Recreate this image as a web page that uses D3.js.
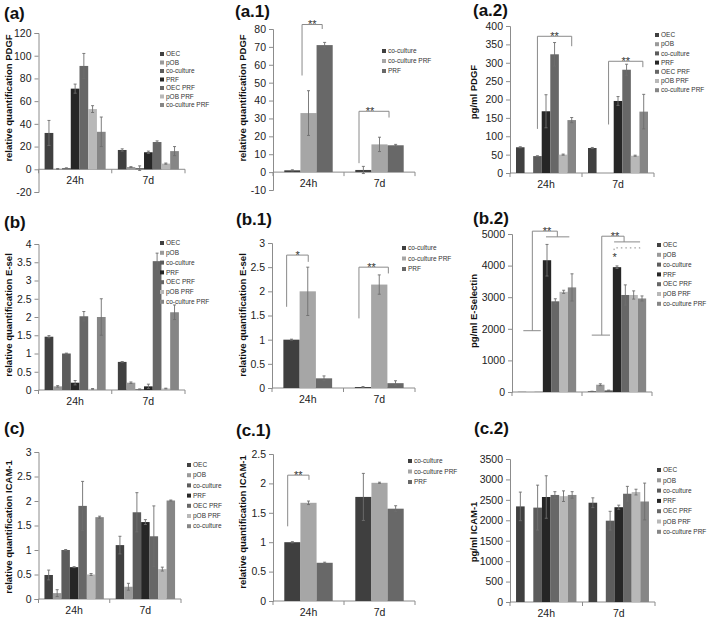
<!DOCTYPE html>
<html><head><meta charset="utf-8">
<script src="https://cdn.jsdelivr.net/npm/d3@7"></script>
<style>body{margin:0;background:#fff} svg{display:block} text{font-family:"Liberation Sans",Arial,sans-serif}</style>
</head><body><svg id="c" width="709" height="623"></svg>
<script>
// ---------- data ----------
const groups = ["24h", "7d"];
const series7 = ["OEC", "pOB", "co-culture", "PRF", "OEC PRF", "pOB PRF", "co-culture PRF"];
const series7c = ["OEC", "pOB", "co-culture", "PRF", "OEC PRF", "pOB PRF", "co-culture"];
const series3 = ["co-culture", "co-culture PRF", "PRF"];
const colors7 = ["#404040", "#9a9a9a", "#5c5c5c", "#262626", "#676767", "#b8b8b8", "#868686"];
const colors3 = ["#3f3f3f", "#a6a6a6", "#686868"];

// (a) relative quantification PDGF
const a24 = [32, 0.4, 1, 71, 91, 53, 33];
const a24e = [11, 0.3, 0.3, 4, 11, 3, 13];
const a7 = [17, 2, 1, 15, 24, 5, 16];
const a7e = [1, 0.3, 2, 1, 1, 0.5, 4];
// (a.1)
const a1_24 = [1, 33, 71];
const a1_24e = [0.3, 12.5, 1.5];
const a1_7 = [1.2, 15.5, 15];
const a1_7e = [2, 4, 0.5];
// (a.2) pg/ml PDGF
const a2_24 = [70, 0, 46, 168, 323, 50, 144];
const a2_24e = [1.5, 0, 1, 45, 32, 1.5, 7];
const a2_7 = [68, 0, 0, 196, 281, 47, 167];
const a2_7e = [1.5, 0, 0, 12, 15, 1.5, 47];
// (b) relative quantification E-sel
const b24 = [1.46, 0.1, 1.0, 0.2, 2.02, 0.03, 2.0];
const b24e = [0.03, 0.02, 0.01, 0.06, 0.13, 0.01, 0.5];
const b7 = [0.77, 0.2, 0.02, 0.1, 3.53, 0.04, 2.13];
const b7e = [0.01, 0.02, 0.01, 0.06, 0.22, 0.01, 0.2];
// (b.1)
const b1_24 = [1.0, 2.0, 0.2];
const b1_24e = [0.01, 0.5, 0.05];
const b1_7 = [0.02, 2.14, 0.1];
const b1_7e = [0.01, 0.2, 0.05];
// (b.2) pg/ml E-Selectin
const b2_24 = [5, 0, 5, 4170, 2870, 3170, 3310];
const b2_24e = [0, 0, 0, 500, 80, 50, 430];
const b2_7 = [20, 230, 50, 3950, 3070, 3070, 2960];
const b2_7e = [5, 30, 10, 40, 320, 130, 80];
// (c) relative quantification ICAM-1
const c24 = [0.49, 0.12, 1.0, 0.65, 1.9, 0.5, 1.67];
const c24e = [0.1, 0.07, 0.01, 0.01, 0.5, 0.02, 0.02];
const c7 = [1.1, 0.25, 1.77, 1.57, 1.28, 0.61, 2.01];
const c7e = [0.18, 0.07, 0.4, 0.05, 0.62, 0.04, 0.01];
// (c.1)
const c1_24 = [1.0, 1.67, 0.65];
const c1_24e = [0.01, 0.03, 0.01];
const c1_7 = [1.77, 2.01, 1.57];
const c1_7e = [0.4, 0.01, 0.05];
// (c.2) pg/ml ICAM-1
const c2_24 = [2340, 0, 2310, 2570, 2620, 2590, 2620];
const c2_24e = [350, 0, 550, 520, 80, 130, 80];
const c2_7 = [2430, 0, 1990, 2320, 2650, 2690, 2460];
const c2_7e = [120, 0, 230, 50, 180, 70, 450];

// significance brackets: group, polyline of [seriesPos, value], label at [seriesPos, value]
const a1Brackets = [
  {g: 0, pts: [[0.6, 54], [0.6, 82.5], [1.85, 82.5], [1.85, 80]], label: "**", at: [1.24, 82.5]},
  {g: 1, pts: [[-0.27, 5], [-0.27, 34], [1.59, 34], [1.59, 30.5]], label: "**", at: [0.41, 34]}
];
const a2Brackets = [
  {g: 0, pts: [[2, 120], [2, 372], [6, 372], [6, 345]], label: "**", at: [4, 372]},
  {g: 1, pts: [[1.9, 132], [1.9, 304], [5.9, 304], [5.9, 288]], label: "**", at: [3.9, 304]}
];
const b1Brackets = [
  {g: 0, pts: [[-0.3, 1.68], [-0.3, 2.75], [1.03, 2.75], [1.03, 2.61]], label: "*", at: [0.38, 2.75]},
  {g: 1, pts: [[-0.25, 1.44], [-0.25, 2.5], [1.56, 2.5], [1.56, 2.37]], label: "**", at: [0.53, 2.5]}
];
const c1Brackets = [
  {g: 0, pts: [[-0.29, 1.27], [-0.29, 2.14], [1.03, 2.14], [1.03, 2.06]], label: "**", at: [0.37, 2.14]}
];
const b2Brackets = [
  {g: 0, pts: [[0.16, 1940], [2.25, 1940]]},
  {g: 0, pts: [[1.24, 1940], [1.24, 5090], [4.24, 5090], [4.24, 4910]], label: "**", at: [3.0, 5090]},
  {g: 0, pts: [[2.88, 4910], [5.68, 4910]]},
  {g: 1, pts: [[-0.03, 1800], [2.16, 1800]]},
  {g: 1, pts: [[1.17, 1800], [1.17, 4930], [3.85, 4930], [3.85, 4750]], label: "**", at: [2.76, 4930]},
  {g: 1, pts: [[2.65, 4750], [5.77, 4750]]},
  {g: 1, pts: [[2.65, 4490], [2.65, 4560], [5.77, 4560], [5.77, 4490]], dash: "1.5,3"},
  {g: 1, pts: [], label: "*", at: [2.72, 4250]}
];

// ---------- layout & drawing ----------
const panels = [
  {title: "(a)", tx: 4, ty: 19, ylab: "relative quantification PDGF", lx: 9, ly: 98,
   xL: 38.5, xR: 185, yTop: 33, yBot: 192, min: -20, max: 120, step: 20,
   series: series7, colors: colors7, vals: [a24, a7], errs: [a24e, a7e], legX: 160, legY: 54, legDy: 8.5},
  {title: "(a.1)", tx: 235, ty: 17, ylab: "relative quantification PDGF", lx: 243, ly: 98,
   xL: 273, xR: 415, yTop: 29, yBot: 190, min: -10, max: 80, step: 10,
   series: series3, colors: colors3, vals: [a1_24, a1_7], errs: [a1_24e, a1_7e], legX: 382, legY: 51, legDy: 10,
   brackets: a1Brackets},
  {title: "(a.2)", tx: 473, ty: 16, ylab: "pg/ml PDGF", lx: 474, ly: 92,
   xL: 510, xR: 654, yTop: 26, yBot: 173, min: 0, max: 400, step: 50,
   series: series7, colors: colors7, vals: [a2_24, a2_7], errs: [a2_24e, a2_7e], legX: 655, legY: 35, legDy: 9.2,
   brackets: a2Brackets},
  {title: "(b)", tx: 4, ty: 228, ylab: "relative quantification E-sel", lx: 9, ly: 315,
   xL: 38.5, xR: 185, yTop: 244, yBot: 390, min: 0, max: 4, step: 0.5,
   series: series7, colors: colors7, vals: [b24, b7], errs: [b24e, b7e], legX: 160, legY: 243, legDy: 9.8},
  {title: "(b.1)", tx: 236, ty: 225, ylab: "relative quantification E-sel", lx: 243, ly: 315,
   xL: 272, xR: 415, yTop: 243, yBot: 388, min: 0, max: 3, step: 0.5,
   series: series3, colors: colors3, vals: [b1_24, b1_7], errs: [b1_24e, b1_7e], legX: 402, legY: 248, legDy: 10.5,
   brackets: b1Brackets},
  {title: "(b.2)", tx: 473, ty: 224, ylab: "pg/ml E-Selectin", lx: 474, ly: 311,
   xL: 512, xR: 652, yTop: 234, yBot: 392, min: 0, max: 5000, step: 1000, noCat: true,
   series: series7, colors: colors7, vals: [b2_24, b2_7], errs: [b2_24e, b2_7e], legX: 657, legY: 245, legDy: 9.8,
   brackets: b2Brackets},
  {title: "(c)", tx: 4, ty: 434, ylab: "relative quantification ICAM-1", lx: 9, ly: 527,
   xL: 38.5, xR: 181, yTop: 452, yBot: 599, min: 0, max: 3, step: 0.5,
   series: series7c, colors: colors7, vals: [c24, c7], errs: [c24e, c7e], legX: 187, legY: 465, legDy: 10.2},
  {title: "(c.1)", tx: 236, ty: 436, ylab: "relative quantification ICAM-1", lx: 243, ly: 522,
   xL: 273, xR: 415, yTop: 454, yBot: 601, min: 0, max: 2.5, step: 0.5,
   series: series3, colors: colors3, vals: [c1_24, c1_7], errs: [c1_24e, c1_7e], legX: 408, legY: 461, legDy: 10.5,
   brackets: c1Brackets},
  {title: "(c.2)", tx: 474, ty: 434, ylab: "pg/ml ICAM-1", lx: 474, ly: 532,
   xL: 510, xR: 655, yTop: 459, yBot: 602, min: 0, max: 3500, step: 500,
   series: series7, colors: colors7, vals: [c2_24, c2_7], errs: [c2_24e, c2_7e], legX: 657, legY: 470, legDy: 10.3}
];

const svg = d3.select("#c");
const AX = "#8c8c8c";

panels.forEach(p => {
  const g = svg.append("g");
  const n = p.series.length;
  const y = d3.scaleLinear().domain([p.min, p.max]).range([p.yBot, p.yTop]);
  const x0 = d3.scaleBand().domain(groups).range([p.xL, p.xR]).padding(0);
  const bw = x0.bandwidth();
  const w = bw / (n + 1.4);
  const pad = (bw - n * w) / 2;
  const x1 = d3.scaleBand().domain(d3.range(n)).range([pad, bw - pad]).padding(0);
  const sx = (gi, s) => x0(groups[gi]) + pad + (s + 0.5) * w;

  // y axis
  const ticks = d3.range(p.min, p.max + p.step / 2, p.step).map(v => +v.toFixed(3));
  const ya = d3.axisLeft(y).tickValues(ticks).tickSize(4).tickPadding(3).tickFormat(d => String(d));
  const yg = g.append("g").attr("transform", `translate(${p.xL},0)`).call(ya);
  yg.select(".domain").attr("stroke", AX);
  yg.selectAll(".tick line").attr("stroke", AX);
  yg.selectAll(".tick text").attr("font-size", 10.5).attr("fill", "#222")
    .attr("font-family", "'Liberation Sans',Arial,sans-serif");

  // x axis line at zero with group boundary ticks
  const y0 = y(0);
  g.append("line").attr("x1", p.xL).attr("x2", p.xR).attr("y1", y0).attr("y2", y0).attr("stroke", AX);
  [p.xL, x0(groups[1]), p.xR].forEach(xx =>
    g.append("line").attr("x1", xx).attr("x2", xx).attr("y1", y0).attr("y2", y0 + 4).attr("stroke", AX));
  if (!p.noCat) {
    g.selectAll(".cat").data(groups).enter().append("text")
      .attr("x", d => x0(d) + bw / 2).attr("y", y0 + 15)
      .attr("text-anchor", "middle").attr("font-size", 10.5).attr("fill", "#222").text(d => d);
  }

  // bars
  groups.forEach((grp, gi) => {
    const gg = g.append("g").attr("transform", `translate(${x0(grp)},0)`);
    p.vals[gi].forEach((v, si) => {
      if (v === 0) return;
      gg.append("rect").attr("x", x1(si)).attr("width", x1.bandwidth())
        .attr("y", Math.min(y(v), y0)).attr("height", Math.abs(y(v) - y0))
        .attr("fill", p.colors[si]);
    });
    p.vals[gi].forEach((v, si) => {
      const e = p.errs[gi][si];
      if (!e) return;
      const cx = x1(si) + x1.bandwidth() / 2;
      gg.append("line").attr("x1", cx).attr("x2", cx).attr("y1", y(v - e)).attr("y2", y(v + e))
        .attr("stroke", "#6e6e6e").attr("stroke-width", 0.9);
      [v - e, v + e].forEach(t => gg.append("line").attr("x1", cx - 1.5).attr("x2", cx + 1.5)
        .attr("y1", y(t)).attr("y2", y(t)).attr("stroke", "#6e6e6e").attr("stroke-width", 0.9));
    });
  });

  // brackets
  (p.brackets || []).forEach(b => {
    if (b.pts.length) {
      const line = d3.line().x(d => sx(b.g, d[0])).y(d => y(d[1]));
      g.append("path").attr("d", line(b.pts)).attr("fill", "none").attr("stroke", "#8a8a8a")
        .attr("stroke-width", 1).attr("stroke-dasharray", b.dash || null);
    }
    if (b.label) {
      g.append("text").attr("x", sx(b.g, b.at[0])).attr("y", y(b.at[1]) + 3.5)
        .attr("text-anchor", "middle").attr("font-size", 11).attr("fill", "#333").text(b.label);
    }
  });

  // legend
  const lg = g.append("g");
  p.series.forEach((s, i) => {
    const yy = p.legY + i * p.legDy;
    lg.append("rect").attr("x", p.legX).attr("y", yy - 2).attr("width", 4).attr("height", 4).attr("fill", p.colors[i]);
    lg.append("text").attr("x", p.legX + 6).attr("y", yy).attr("dy", "0.35em")
      .attr("font-size", 6.5).attr("fill", "#333").text(s);
  });

  // y label
  g.append("text").attr("transform", `translate(${p.lx},${p.ly}) rotate(-90)`)
    .attr("text-anchor", "middle").attr("dy", "0.35em").attr("font-size", 9.5).attr("font-weight", "bold")
    .attr("fill", "#111").text(p.ylab);

  // title
  g.append("text").attr("x", p.tx).attr("y", p.ty).attr("font-size", 17).attr("font-weight", "bold")
    .attr("fill", "#111").text(p.title);
});
</script>
</body></html>
